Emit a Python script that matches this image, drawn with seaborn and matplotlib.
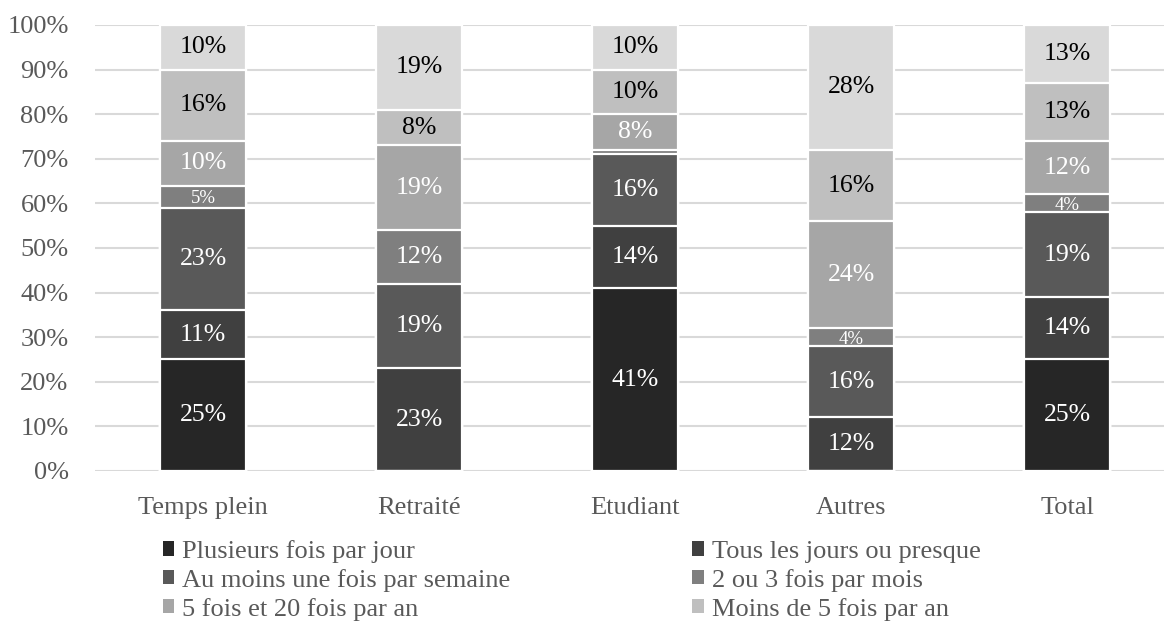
import matplotlib
matplotlib.use("Agg")
import matplotlib.pyplot as plt
from matplotlib.patches import Patch
import numpy as np
import seaborn as sns

categories = ["Temps plein", "Retraité", "Etudiant", "Autres", "Total"]
series_names = [
    "Plusieurs fois par jour",
    "Tous les jours ou presque",
    "Au moins une fois par semaine",
    "2 ou 3 fois par mois",
    "5 fois et 20 fois par an",
    "Moins de 5 fois par an",
    "",  # unlabelled top series (no legend entry in the original)
]
plusieurs_fois_par_jour = [25, 0, 41, 0, 25]
tous_les_jours = [11, 23, 14, 12, 14]
au_moins_une_fois_semaine = [23, 19, 16, 16, 19]
deux_ou_trois_fois_mois = [5, 12, 1, 4, 4]
cinq_a_vingt_fois_an = [10, 19, 8, 24, 12]
moins_de_cinq_fois_an = [16, 8, 10, 16, 13]
serie_sans_legende = [10, 19, 10, 28, 13]

values = [plusieurs_fois_par_jour, tous_les_jours, au_moins_une_fois_semaine,
          deux_ou_trois_fois_mois, cinq_a_vingt_fois_an, moins_de_cinq_fois_an,
          serie_sans_legende]
colors = ["#262626", "#404040", "#595959", "#7f7f7f", "#a6a6a6", "#bfbfbf", "#d9d9d9"]
text_colors = ["white", "white", "white", "white", "white", "black", "black"]

sns.set_theme(style="white")
plt.rcParams["font.family"] = ["Liberation Serif", "DejaVu Serif"]

fig = plt.figure(figsize=(11.64, 6.31), dpi=100)
ax = fig.add_axes([0.0816, 0.2536, 0.928, 0.7068])

vals = np.array(values, dtype=float)
cum = np.cumsum(vals, axis=0)

# draw cumulative bars from top to bottom so each segment shows
for k in range(len(values) - 1, -1, -1):
    sns.barplot(x=categories, y=cum[k], color=colors[k], saturation=1,
                width=0.395, edgecolor="white", linewidth=1.6, ax=ax, zorder=3)

# labels
for k in range(len(values)):
    for i in range(len(categories)):
        v = vals[k, i]
        if v < 2:
            continue
        bottom = cum[k, i] - v
        if v <= 5:
            ax.text(i, bottom + v / 2 - 0.5, f"{int(v)}%", ha="center", va="center",
                    fontsize=13.5, color=text_colors[k], zorder=5)
        else:
            ax.text(i, bottom + v / 2, f"{int(v)}%", ha="center", va="center",
                    fontsize=18.5, color=text_colors[k], zorder=5)

ax.set_ylim(0, 100)
ax.set_xlim(-0.5, 4.5)
ax.set_yticks(np.arange(0, 101, 10))
ax.set_yticklabels([f"{t}%" for t in range(0, 101, 10)])
ax.yaxis.grid(True, color="#d9d9d9", linewidth=1.5, zorder=0)
ax.set_axisbelow(True)
for s in ax.spines.values():
    s.set_visible(False)
ax.tick_params(axis="both", length=0, labelsize=19, labelcolor="#595959")
ax.tick_params(axis="y", pad=19)
ax.tick_params(axis="x", pad=19)
ax.set_xlabel("")
ax.set_ylabel("")

# legend (six labelled series)
order = [0, 2, 4, 1, 3, 5]
handles = [Patch(facecolor=colors[k], edgecolor="none") for k in order]
labels = [series_names[k] for k in order]
fig.legend(handles, labels, loc="upper left", bbox_to_anchor=(0.1306, 0.161),
           ncol=2, frameon=False, fontsize=19, labelcolor="#595959",
           handlelength=0.45, handleheight=0.45, handletextpad=0.3,
           columnspacing=6.87, labelspacing=0.22, borderaxespad=0)

fig.savefig("out.png", dpi=100)
